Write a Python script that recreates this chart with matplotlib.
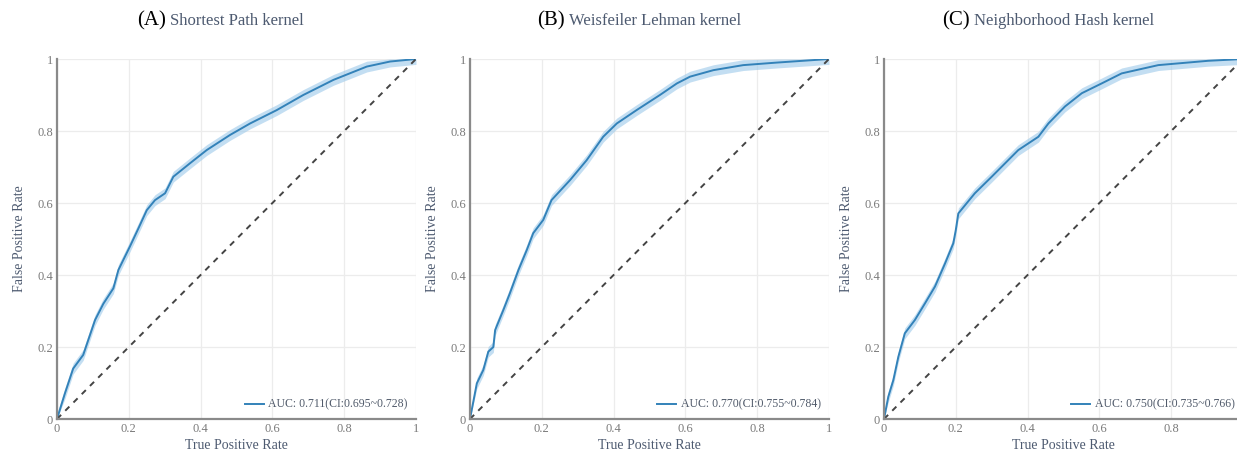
import numpy as np
import matplotlib.pyplot as plt

# ROC points for each kernel (x, y)
sp_x = [0, 0.022, 0.045, 0.073, 0.106, 0.129, 0.157, 0.171, 0.203, 0.227, 0.25, 0.273, 0.301,
        0.324, 0.37, 0.417, 0.482, 0.538, 0.612, 0.686, 0.77, 0.863, 0.928, 1.0]
sp_y = [0, 0.071, 0.14, 0.178, 0.275, 0.32, 0.363, 0.414, 0.479, 0.53, 0.58, 0.608, 0.627,
        0.673, 0.71, 0.747, 0.789, 0.821, 0.858, 0.9, 0.942, 0.979, 0.993, 1.0]

wl_x = [0, 0.019, 0.037, 0.051, 0.065, 0.07, 0.093, 0.111, 0.135, 0.158, 0.176, 0.204, 0.227,
        0.279, 0.325, 0.371, 0.409, 0.464, 0.529, 0.576, 0.613, 0.678, 0.761, 0.854, 1.0]
wl_y = [0, 0.099, 0.136, 0.187, 0.2, 0.247, 0.303, 0.349, 0.414, 0.469, 0.516, 0.553, 0.608,
        0.664, 0.719, 0.784, 0.821, 0.858, 0.9, 0.932, 0.951, 0.969, 0.983, 0.99, 1.0]

nh_x = [0, 0.012, 0.026, 0.04, 0.058, 0.086, 0.114, 0.142, 0.17, 0.193, 0.2, 0.207, 0.23, 0.253,
        0.3, 0.328, 0.374, 0.43, 0.458, 0.504, 0.551, 0.606, 0.662, 0.764, 0.903, 1.0]
nh_y = [0, 0.062, 0.108, 0.173, 0.238, 0.275, 0.321, 0.368, 0.432, 0.488, 0.525, 0.571, 0.599,
        0.627, 0.673, 0.701, 0.747, 0.784, 0.821, 0.868, 0.905, 0.932, 0.96, 0.983, 0.995, 1.0]

tags = ['(A)', '(B)', '(C)']
names = ['Shortest Path kernel', 'Weisfeiler Lehman kernel', 'Neighborhood Hash kernel']
auc_labels = ['AUC: 0.711(CI:0.695~0.728)', 'AUC: 0.770(CI:0.755~0.784)', 'AUC: 0.750(CI:0.735~0.766)']
band = 0.015
ticks = [0, 0.2, 0.4, 0.6, 0.8, 1]
tick_labels = ['0', '0.2', '0.4', '0.6', '0.8', '1']

curves = [(sp_x, sp_y), (wl_x, wl_y), (nh_x, nh_y)]
lefts = [57, 470, 884]          # axes left edges in pixels
tag_right = [0.304, 0.265, 0.240]   # where the (A)/(B)/(C) tag ends, axes fraction

plt.rcParams['font.family'] = ['Liberation Serif', 'DejaVu Serif']

W, H = 1237, 457
fig = plt.figure(figsize=(W / 100, H / 100), dpi=100)

line_col = '#3382b9'
band_col = '#9cc9ea'
label_col = '#4d5a70'
tick_col = '#7a7a7a'

for i in range(3):
    ax = fig.add_axes([lefts[i] / W, 38 / H, 359 / W, 360 / H])
    x, y = np.array(curves[i][0]), np.array(curves[i][1])
    ax.fill_between(x, np.clip(y - band, 0, 1), np.clip(y + band, 0, 1),
                    color=band_col, alpha=0.6, lw=0)
    ax.plot(x, y, color=line_col, lw=1.4, label=auc_labels[i])
    ax.plot([0, 1], [0, 1], color='#444444', lw=1.4, ls=(0, (3, 3)))

    ax.set_xlim(0, 1)
    ax.set_ylim(0, 1)
    ax.set_xticks(ticks)
    ax.set_yticks(ticks)
    xl = list(tick_labels)
    if i == 2:
        xl[-1] = ''   # last panel runs off the right edge
    ax.set_xticklabels(xl)
    ax.set_yticklabels(tick_labels)
    ax.tick_params(length=0, labelsize=9, colors=tick_col, pad=3)
    ax.grid(True, color='#ececec', lw=0.9)
    ax.set_axisbelow(True)
    for s in ['top', 'right']:
        ax.spines[s].set_visible(False)
    for s in ['left', 'bottom']:
        ax.spines[s].set_color('#8a8a8a')
        ax.spines[s].set_linewidth(1.6)
    ax.set_xlabel('True Positive Rate', fontsize=10, color=label_col, labelpad=3)
    ax.set_ylabel('False Positive Rate', fontsize=10, color=label_col, labelpad=8)

    leg = ax.legend(loc='lower right', frameon=False, fontsize=8.5, handlelength=1.6,
                    handletextpad=0.4, borderaxespad=0.3)
    for t in leg.get_texts():
        t.set_color('#505a6a')

    ax.text(tag_right[i], 1.105, tags[i], transform=ax.transAxes, ha='right', va='center',
            fontsize=15, color='black')
    ax.text(tag_right[i] + 0.012, 1.105, names[i], transform=ax.transAxes, ha='left',
            va='center', fontsize=12, color=label_col)

fig.savefig('out.png', dpi=100, facecolor='white')
